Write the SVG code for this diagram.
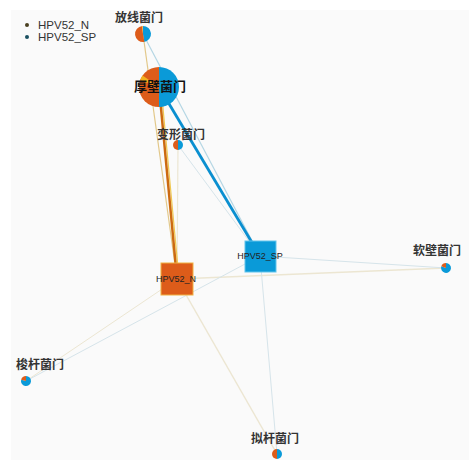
<svg xmlns="http://www.w3.org/2000/svg" width="471" height="460" viewBox="0 0 471 460">
<style>
.lbl{font-family:"Noto Sans CJK SC","Liberation Sans",sans-serif;font-size:12px;fill:#333;text-anchor:middle;font-weight:700}
.big{font-size:13px;fill:#111;font-weight:700}
.nl{font-family:"Liberation Sans",sans-serif;font-size:9px;fill:#222;text-anchor:middle}
.leg{font-family:"Liberation Sans",sans-serif;font-size:11.5px;fill:#333}
.o{fill:#dd5c1a}.b{fill:#0a9ad8}.y{fill:#f2b01e}
.en{stroke:#ece6d2;fill:none}
.es{stroke:#d6e4ea;fill:none}
</style>
<rect width="471" height="460" fill="#ffffff"/>
<rect x="11" y="10" width="458" height="450" fill="#fafafa"/>
<g id="legend">
<circle cx="27" cy="25" r="2" fill="#4a4020"/>
<text class="leg" x="38" y="29">HPV52_N</text>
<circle cx="27" cy="37" r="2" fill="#1a5060"/>
<text class="leg" x="38" y="41">HPV52_SP</text>
</g>
<g id="edges">
<line class="en" x1="177" y1="279" x2="446" y2="268" stroke-width="1.5"/>
<line class="es" x1="260" y1="256" x2="446" y2="268" stroke-width="1" stroke="#e4eaea"/>
<line class="en" x1="177" y1="279" x2="26" y2="381" stroke-width="1"/>
<line class="es" x1="260" y1="256" x2="26" y2="381" stroke-width="1" stroke="#e2eae6"/>
<line class="en" x1="177" y1="279" x2="277" y2="454" stroke-width="1.5" stroke="#e8e2c8"/>
<line class="es" x1="260" y1="256" x2="277" y2="454" stroke-width="1"/>
<line class="en" x1="177" y1="279" x2="178" y2="145" stroke-width="1.2"/>
<line class="es" x1="260" y1="256" x2="178" y2="145" stroke-width="1" stroke="#e2e8e6"/>
<line x1="177" y1="279" x2="143" y2="34" stroke="#e2c88a" stroke-width="1.2"/>
<line x1="260" y1="256" x2="143" y2="34" stroke="#b4d6e4" stroke-width="1.2"/>
<line x1="179" y1="279" x2="161" y2="87" stroke="#f0c850" stroke-width="1.2"/>
<line x1="177" y1="279" x2="159" y2="87" stroke="#cc6a10" stroke-width="2.5"/>
<line x1="260" y1="256" x2="159" y2="87" stroke="#0a8fd0" stroke-width="2.8"/>
</g>
<g id="n_fangxian">
<path class="b" d="M143,34 L143,26 A8,8 0 0 1 144.39,41.88 Z"/>
<path class="o" d="M143,34 L144.39,41.88 A8,8 0 1 1 142.30,26.03 Z"/>
<path class="y" d="M143,34 L142.30,26.03 A8,8 0 0 1 143,26 Z"/>
<text class="lbl" x="139" y="22">放线菌门</text>
</g>
<g id="n_houbi">
<path class="b" d="M159,87 L159,67 A20,20 0 0 1 159,107 Z"/>
<path class="o" d="M159,87 L159,107 A20,20 0 0 1 159,67 Z"/>
<path class="y" d="M159,87 L140.21,80.16 A20,20 0 0 1 142.62,75.53 Z"/>
<text class="lbl big" x="160" y="91">厚壁菌门</text>
</g>
<g id="n_bianxing">
<path class="b" d="M178,145 L178,140 A5,5 0 0 1 178,150 Z"/>
<path class="o" d="M178,145 L178,150 A5,5 0 0 1 178,140 Z"/>
<text class="lbl" x="181" y="139">变形菌门</text>
</g>
<g id="n_ruanbi">
<path class="b" d="M446,268 L446,263 A5,5 0 1 1 441.30,266.29 Z"/>
<path class="o" d="M446,268 L441.30,266.29 A5,5 0 0 1 446,263 Z"/>
<text class="lbl" x="437" y="255">软壁菌门</text>
</g>
<g id="n_suogan">
<path class="b" d="M26,381 L26,376 A5,5 0 1 1 21.17,379.71 Z"/>
<path class="o" d="M26,381 L21.17,379.71 A5,5 0 0 1 26,376 Z"/>
<text class="lbl" x="40" y="369">梭杆菌门</text>
</g>
<g id="n_nigan">
<path class="b" d="M277,454 L277,449 A5,5 0 0 1 277,459 Z"/>
<path class="o" d="M277,454 L277,459 A5,5 0 0 1 277,449 Z"/>
<text class="lbl" x="275" y="443">拟杆菌门</text>
</g>
<g id="n_hpv52_n">
<rect x="161" y="263" width="32" height="32" fill="#dd5c1a" stroke="#f0b040" stroke-width="1"/>
<text class="nl" x="176" y="282">HPV52_N</text>
</g>
<g id="n_hpv52_sp">
<rect x="245" y="241" width="31" height="31" fill="#0a9ad8" stroke="#60c4ec" stroke-width="1"/>
<text class="nl" x="260" y="259">HPV52_SP</text>
</g>
</svg>
